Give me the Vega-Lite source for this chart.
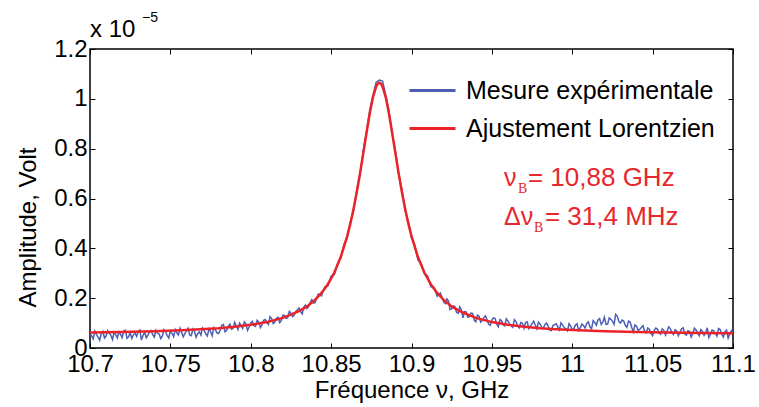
{
  "$schema": "https://vega.github.io/schema/vega-lite/v6.json",
  "width": 643,
  "height": 299,
  "autosize": {"type": "none"},
  "padding": {"left": 90, "top": 49, "right": 26, "bottom": 59},
  "background": "white",
  "config": {
    "font": "Liberation Sans",
    "view": {"stroke": "black", "strokeWidth": 1.5},
    "axis": {
      "labelFont": "Liberation Sans", "titleFont": "Liberation Sans",
      "labelFontSize": 24, "titleFontSize": 24, "titleFontWeight": "normal",
      "labelColor": "black", "titleColor": "black", "tickColor": "black",
      "domain": false, "grid": false, "tickSize": -5, "tickWidth": 1
    }
  },
  "datasets": {
    "meas": [
      {"f":10.700,"a":0.061},{"f":10.702,"a":0.037},{"f":10.704,"a":0.055},{"f":10.706,"a":0.031},{"f":10.708,"a":0.067},
      {"f":10.710,"a":0.048},{"f":10.712,"a":0.060},{"f":10.714,"a":0.034},{"f":10.716,"a":0.054},{"f":10.718,"a":0.065},
      {"f":10.720,"a":0.042},{"f":10.722,"a":0.071},{"f":10.724,"a":0.045},{"f":10.726,"a":0.038},{"f":10.728,"a":0.060},
      {"f":10.730,"a":0.066},{"f":10.732,"a":0.032},{"f":10.734,"a":0.064},{"f":10.736,"a":0.052},{"f":10.738,"a":0.070},
      {"f":10.740,"a":0.044},{"f":10.742,"a":0.060},{"f":10.744,"a":0.038},{"f":10.746,"a":0.074},{"f":10.748,"a":0.051},
      {"f":10.750,"a":0.068},{"f":10.752,"a":0.045},{"f":10.754,"a":0.061},{"f":10.756,"a":0.079},{"f":10.758,"a":0.045},
      {"f":10.760,"a":0.068},{"f":10.762,"a":0.052},{"f":10.764,"a":0.076},{"f":10.766,"a":0.043},{"f":10.768,"a":0.065},
      {"f":10.770,"a":0.080},{"f":10.772,"a":0.057},{"f":10.774,"a":0.077},{"f":10.776,"a":0.049},{"f":10.778,"a":0.073},
      {"f":10.780,"a":0.058},
      {"f":10.782,"a":0.092},{"f":10.784,"a":0.065},{"f":10.786,"a":0.087},{"f":10.788,"a":0.075},{"f":10.790,"a":0.103},
      {"f":10.792,"a":0.074},{"f":10.794,"a":0.091},{"f":10.796,"a":0.105},{"f":10.798,"a":0.071},{"f":10.800,"a":0.101},
      {"f":10.802,"a":0.090},{"f":10.804,"a":0.111},{"f":10.806,"a":0.082},{"f":10.808,"a":0.111},{"f":10.810,"a":0.102},
      {"f":10.812,"a":0.126},{"f":10.814,"a":0.098},{"f":10.816,"a":0.119},{"f":10.818,"a":0.102},{"f":10.820,"a":0.132},
      {"f":10.822,"a":0.119},{"f":10.824,"a":0.147},{"f":10.826,"a":0.126},{"f":10.828,"a":0.146},{"f":10.830,"a":0.161},
      {"f":10.832,"a":0.137},{"f":10.834,"a":0.172},{"f":10.836,"a":0.166},{"f":10.838,"a":0.194},{"f":10.840,"a":0.182},
      {"f":10.842,"a":0.216},{"f":10.844,"a":0.209},{"f":10.846,"a":0.245},{"f":10.848,"a":0.250},{"f":10.850,"a":0.289},
      {"f":10.852,"a":0.294},{"f":10.854,"a":0.339},{"f":10.856,"a":0.361},{"f":10.858,"a":0.416},{"f":10.860,"a":0.441},
      {"f":10.862,"a":0.506},{"f":10.864,"a":0.550},{"f":10.866,"a":0.636},{"f":10.868,"a":0.696},{"f":10.870,"a":0.793},
      {"f":10.872,"a":0.867},{"f":10.874,"a":0.954},{"f":10.876,"a":1.012},{"f":10.878,"a":1.067},{"f":10.880,"a":1.075},
      {"f":10.882,"a":1.071},{"f":10.884,"a":1.014},{"f":10.886,"a":0.952},{"f":10.888,"a":0.857},{"f":10.890,"a":0.791},
      {"f":10.892,"a":0.697},{"f":10.894,"a":0.638},{"f":10.896,"a":0.552},{"f":10.898,"a":0.509},{"f":10.900,"a":0.442},
      {"f":10.902,"a":0.414},{"f":10.904,"a":0.354},{"f":10.906,"a":0.340},{"f":10.908,"a":0.299},{"f":10.910,"a":0.290},
      {"f":10.912,"a":0.246},{"f":10.914,"a":0.243},{"f":10.916,"a":0.208},{"f":10.918,"a":0.220},{"f":10.920,"a":0.185},
      {"f":10.922,"a":0.197},{"f":10.924,"a":0.154},{"f":10.926,"a":0.169},{"f":10.928,"a":0.143},{"f":10.930,"a":0.165},
      {"f":10.932,"a":0.121},{"f":10.934,"a":0.145},{"f":10.936,"a":0.125},{"f":10.938,"a":0.139},{"f":10.940,"a":0.105},
      {"f":10.942,"a":0.128},{"f":10.944,"a":0.110},{"f":10.946,"a":0.129},{"f":10.948,"a":0.095},{"f":10.950,"a":0.112},
      {"f":10.952,"a":0.118},{"f":10.954,"a":0.085},{"f":10.956,"a":0.109},{"f":10.958,"a":0.089},{"f":10.960,"a":0.108},
      {"f":10.962,"a":0.089},{"f":10.964,"a":0.114},{"f":10.966,"a":0.090},{"f":10.968,"a":0.102},{"f":10.970,"a":0.079},
      {"f":10.972,"a":0.105},{"f":10.974,"a":0.089},{"f":10.976,"a":0.108},{"f":10.978,"a":0.077},{"f":10.980,"a":0.096},
      {"f":10.982,"a":0.079},{"f":10.984,"a":0.100},{"f":10.986,"a":0.072},{"f":10.988,"a":0.090},{"f":10.990,"a":0.097},
      {"f":10.992,"a":0.073},{"f":10.994,"a":0.092},{"f":10.996,"a":0.077},{"f":10.998,"a":0.098},{"f":11.000,"a":0.072},
      {"f":11.002,"a":0.092},{"f":11.004,"a":0.070},{"f":11.006,"a":0.096},{"f":11.008,"a":0.080},{"f":11.010,"a":0.105},
      {"f":11.012,"a":0.077},{"f":11.014,"a":0.103},{"f":11.016,"a":0.113},{"f":11.018,"a":0.095},{"f":11.020,"a":0.123},
      {"f":11.022,"a":0.096},{"f":11.024,"a":0.115},{"f":11.026,"a":0.095},{"f":11.028,"a":0.128},{"f":11.030,"a":0.100},
      {"f":11.032,"a":0.108},{"f":11.034,"a":0.083},{"f":11.036,"a":0.104},{"f":11.038,"a":0.065},{"f":11.040,"a":0.087},
      {"f":11.042,"a":0.075},{"f":11.044,"a":0.089},{"f":11.046,"a":0.061},{"f":11.048,"a":0.074},{"f":11.050,"a":0.050},
      {"f":11.052,"a":0.080},{"f":11.054,"a":0.060},{"f":11.056,"a":0.077},{"f":11.058,"a":0.052},{"f":11.060,"a":0.085},
      {"f":11.062,"a":0.061},{"f":11.064,"a":0.073},{"f":11.066,"a":0.049},{"f":11.068,"a":0.077},{"f":11.070,"a":0.056},
      {"f":11.072,"a":0.069},{"f":11.074,"a":0.044},{"f":11.076,"a":0.079},{"f":11.078,"a":0.061},{"f":11.080,"a":0.074},
      {"f":11.082,"a":0.051},{"f":11.084,"a":0.081},{"f":11.086,"a":0.056},{"f":11.088,"a":0.069},{"f":11.090,"a":0.048},
      {"f":11.092,"a":0.074},{"f":11.094,"a":0.044},{"f":11.096,"a":0.072},{"f":11.098,"a":0.057},{"f":11.100,"a":0.066},
      {"f":10.701,"a":0.049},{"f":10.703,"a":0.068},{"f":10.705,"a":0.044},{"f":10.707,"a":0.058},{"f":10.709,"a":0.040},
      {"f":10.711,"a":0.070},{"f":10.713,"a":0.051},{"f":10.715,"a":0.063},{"f":10.717,"a":0.041},{"f":10.719,"a":0.055},
      {"f":10.721,"a":0.069},{"f":10.723,"a":0.039},{"f":10.725,"a":0.062},{"f":10.727,"a":0.053},{"f":10.729,"a":0.046},
      {"f":10.731,"a":0.072},{"f":10.733,"a":0.050},{"f":10.735,"a":0.041},{"f":10.737,"a":0.064},{"f":10.739,"a":0.054},
      {"f":10.741,"a":0.071},{"f":10.743,"a":0.056},{"f":10.745,"a":0.047},{"f":10.747,"a":0.066},{"f":10.749,"a":0.040},
      {"f":10.751,"a":0.059},{"f":10.753,"a":0.074},{"f":10.755,"a":0.052},{"f":10.757,"a":0.063},{"f":10.759,"a":0.058},
      {"f":10.761,"a":0.079},{"f":10.763,"a":0.049},{"f":10.765,"a":0.067},{"f":10.767,"a":0.058},{"f":10.769,"a":0.052},
      {"f":10.771,"a":0.071},{"f":10.773,"a":0.048},{"f":10.775,"a":0.066},{"f":10.777,"a":0.082},{"f":10.779,"a":0.061},
      {"f":10.781,"a":0.072},{"f":10.783,"a":0.094},{"f":10.785,"a":0.071},{"f":10.787,"a":0.096},{"f":10.789,"a":0.078},
      {"f":10.791,"a":0.089},{"f":10.793,"a":0.100},{"f":10.795,"a":0.079},{"f":10.797,"a":0.097},{"f":10.799,"a":0.084},
      {"f":10.801,"a":0.107},{"f":10.803,"a":0.087},{"f":10.805,"a":0.104},{"f":10.807,"a":0.093},{"f":10.809,"a":0.114},
      {"f":10.811,"a":0.095},{"f":10.813,"a":0.118},{"f":10.815,"a":0.104},{"f":10.817,"a":0.123},{"f":10.819,"a":0.110},
      {"f":10.821,"a":0.131},{"f":10.823,"a":0.122},{"f":10.825,"a":0.140},{"f":10.827,"a":0.131},{"f":10.829,"a":0.153},
      {"f":10.831,"a":0.146},{"f":10.833,"a":0.164},{"f":10.835,"a":0.159},{"f":10.837,"a":0.184},{"f":10.839,"a":0.180},
      {"f":10.921,"a":0.178},{"f":10.923,"a":0.188},{"f":10.925,"a":0.158},{"f":10.927,"a":0.166},{"f":10.929,"a":0.139},
      {"f":10.931,"a":0.153},{"f":10.933,"a":0.146},{"f":10.935,"a":0.124},{"f":10.937,"a":0.140},{"f":10.939,"a":0.112},
      {"f":10.941,"a":0.131},{"f":10.943,"a":0.104},{"f":10.945,"a":0.122},{"f":10.947,"a":0.113},{"f":10.949,"a":0.091},
      {"f":10.951,"a":0.121},{"f":10.953,"a":0.096},{"f":10.955,"a":0.114},{"f":10.957,"a":0.094},{"f":10.959,"a":0.117},
      {"f":10.961,"a":0.098},{"f":10.963,"a":0.083},{"f":10.965,"a":0.106},{"f":10.967,"a":0.081},{"f":10.969,"a":0.099},
      {"f":10.971,"a":0.103},{"f":10.973,"a":0.078},{"f":10.975,"a":0.097},{"f":10.977,"a":0.092},{"f":10.979,"a":0.104},
      {"f":10.981,"a":0.083},{"f":10.983,"a":0.094},{"f":10.985,"a":0.088},{"f":10.987,"a":0.070},{"f":10.989,"a":0.094},
      {"f":10.991,"a":0.085},{"f":10.993,"a":0.101},{"f":10.995,"a":0.082},{"f":10.997,"a":0.069},{"f":10.999,"a":0.088},
      {"f":11.001,"a":0.078},{"f":11.003,"a":0.097},{"f":11.005,"a":0.081},{"f":11.007,"a":0.090},{"f":11.009,"a":0.099},
      {"f":11.011,"a":0.085},{"f":11.013,"a":0.110},{"f":11.015,"a":0.092},{"f":11.017,"a":0.118},{"f":11.019,"a":0.104},
      {"f":11.021,"a":0.095},{"f":11.023,"a":0.121},{"f":11.025,"a":0.108},{"f":11.027,"a":0.135},{"f":11.029,"a":0.106},
      {"f":11.031,"a":0.112},{"f":11.033,"a":0.091},{"f":11.035,"a":0.108},{"f":11.037,"a":0.082},{"f":11.039,"a":0.092},
      {"f":11.041,"a":0.070},{"f":11.043,"a":0.082},{"f":11.045,"a":0.068},{"f":11.047,"a":0.080},{"f":11.049,"a":0.059},
      {"f":11.051,"a":0.071},{"f":11.053,"a":0.075},{"f":11.055,"a":0.055},{"f":11.057,"a":0.071},{"f":11.059,"a":0.067},
      {"f":11.061,"a":0.078},{"f":11.063,"a":0.054},{"f":11.065,"a":0.068},{"f":11.067,"a":0.063},{"f":11.069,"a":0.081},
      {"f":11.071,"a":0.052},{"f":11.073,"a":0.066},{"f":11.075,"a":0.058},{"f":11.077,"a":0.072},{"f":11.079,"a":0.049},
      {"f":11.081,"a":0.067},{"f":11.083,"a":0.061},{"f":11.085,"a":0.042},{"f":11.087,"a":0.072},{"f":11.089,"a":0.060},
      {"f":11.091,"a":0.078},{"f":11.093,"a":0.055},{"f":11.095,"a":0.065},{"f":11.097,"a":0.040},{"f":11.099,"a":0.070}
    ],
    "fit": [
      {"f":10.70,"a":0.062},{"f":10.72,"a":0.064},{"f":10.74,"a":0.067},{"f":10.76,"a":0.072},{"f":10.78,"a":0.079},
      {"f":10.79,"a":0.085},{"f":10.80,"a":0.093},{"f":10.81,"a":0.104},{"f":10.82,"a":0.121},{"f":10.83,"a":0.148},
      {"f":10.835,"a":0.167},{"f":10.84,"a":0.193},{"f":10.844,"a":0.221},{"f":10.848,"a":0.256},{"f":10.852,"a":0.303},
      {"f":10.856,"a":0.365},{"f":10.86,"a":0.449},{"f":10.862,"a":0.500},{"f":10.864,"a":0.560},{"f":10.866,"a":0.627},
      {"f":10.868,"a":0.701},{"f":10.87,"a":0.781},{"f":10.872,"a":0.863},{"f":10.874,"a":0.940},{"f":10.876,"a":1.006},
      {"f":10.878,"a":1.049},{"f":10.879,"a":1.061},{"f":10.88,"a":1.065},{"f":10.881,"a":1.061},{"f":10.882,"a":1.049},
      {"f":10.884,"a":1.006},{"f":10.886,"a":0.940},{"f":10.888,"a":0.863},{"f":10.89,"a":0.781},{"f":10.892,"a":0.701},
      {"f":10.894,"a":0.627},{"f":10.896,"a":0.560},{"f":10.898,"a":0.500},{"f":10.90,"a":0.449},{"f":10.904,"a":0.365},
      {"f":10.908,"a":0.303},{"f":10.912,"a":0.256},{"f":10.916,"a":0.221},{"f":10.92,"a":0.193},{"f":10.925,"a":0.167},
      {"f":10.93,"a":0.148},{"f":10.94,"a":0.121},{"f":10.95,"a":0.104},{"f":10.96,"a":0.093},{"f":10.97,"a":0.085},
      {"f":10.98,"a":0.079},{"f":10.99,"a":0.075},{"f":11.00,"a":0.072},{"f":11.02,"a":0.067},{"f":11.04,"a":0.064},
      {"f":11.06,"a":0.062},{"f":11.08,"a":0.060},{"f":11.10,"a":0.059}
    ]
  },
  "resolve": {"axis": {"x": "independent", "y": "independent"}},
  "layer": [
    {
      "data": {"name": "meas"},
      "mark": {"type": "line", "strokeWidth": 1.5, "clip": true},
      "encoding": {
        "x": {"field": "f", "type": "quantitative", "scale": {"domain": [10.7, 11.1], "nice": false, "zero": false},
          "axis": {"orient": "bottom", "values": [10.7,10.75,10.8,10.85,10.9,10.95,11,11.05,11.1], "format": "~g", "labelPadding": 9, "labelFlush": false, "labelOverlap": false, "title": "Fréquence ν, GHz", "titlePadding": 2}},
        "y": {"field": "a", "type": "quantitative", "scale": {"domain": [0, 1.2], "nice": false},
          "axis": {"orient": "left", "values": [0,0.2,0.4,0.6,0.8,1,1.2], "format": "~g", "labelPadding": 8, "labelFlush": false, "labelOverlap": false, "title": "Amplitude, Volt", "titleX": -62, "titleY": 178, "titleBaseline": "middle"}},
        "color": {"datum": "Mesure expérimentale", "type": "nominal",
          "scale": {"domain": ["Mesure expérimentale", "Ajustement Lorentzien"], "range": ["#4b5fb4", "#eb2328"]},
          "legend": {"orient": "none", "legendX": 318, "legendY": 17, "title": null, "symbolType": "stroke", "symbolSize": 2116, "symbolStrokeWidth": 3, "labelFontSize": 25, "labelFont": "Liberation Sans", "labelColor": "black", "labelOffset": 9, "labelLimit": 500, "rowPadding": -14, "padding": 0}}
      }
    },
    {
      "data": {"name": "fit"},
      "mark": {"type": "line", "strokeWidth": 2.5, "clip": true},
      "encoding": {
        "x": {"field": "f", "type": "quantitative", "axis": null},
        "y": {"field": "a", "type": "quantitative", "axis": null},
        "color": {"datum": "Ajustement Lorentzien", "type": "nominal"}
      }
    },
    {
      "data": {"name": "fit"},
      "mark": {"type": "line", "opacity": 0},
      "encoding": {
        "x": {"field": "f", "type": "quantitative", "axis": {"orient": "top", "values": [10.7,10.75,10.8,10.85,10.9,10.95,11,11.05,11.1], "labels": false, "title": null}},
        "y": {"field": "a", "type": "quantitative", "axis": {"orient": "right", "values": [0,0.2,0.4,0.6,0.8,1,1.2], "labels": false, "title": null}}
      }
    },
    {
      "data": {"values": [{}]},
      "mark": {"type": "text", "text": "x 10", "align": "left", "baseline": "alphabetic", "dy": -12, "fontSize": 24, "font": "Liberation Sans", "color": "black", "clip": false},
      "encoding": {"x": {"datum": 10.7, "type": "quantitative", "axis": null}, "y": {"datum": 1.2, "type": "quantitative", "axis": null}}
    },
    {
      "data": {"values": [{}]},
      "mark": {"type": "text", "text": "−5", "align": "left", "baseline": "alphabetic", "dx": 52, "dy": -27, "fontSize": 14, "font": "Liberation Sans", "color": "black", "clip": false},
      "encoding": {"x": {"datum": 10.7, "type": "quantitative", "axis": null}, "y": {"datum": 1.2, "type": "quantitative", "axis": null}}
    },
    {
      "data": {"values": [{}]},
      "mark": {"type": "text", "text": "ν", "align": "left", "baseline": "alphabetic", "fontSize": 25, "font": "Liberation Sans", "color": "#e6282d"},
      "encoding": {"x": {"datum": 10.9575, "type": "quantitative", "axis": null}, "y": {"datum": 0.65, "type": "quantitative", "axis": null}}
    },
    {
      "data": {"values": [{}]},
      "mark": {"type": "text", "text": "B", "align": "left", "baseline": "alphabetic", "dx": 14, "dy": 7, "fontSize": 14, "font": "Liberation Serif", "color": "#e6282d"},
      "encoding": {"x": {"datum": 10.9575, "type": "quantitative", "axis": null}, "y": {"datum": 0.65, "type": "quantitative", "axis": null}}
    },
    {
      "data": {"values": [{}]},
      "mark": {"type": "text", "text": "= 10,88 GHz", "align": "left", "baseline": "alphabetic", "dx": 24, "fontSize": 26, "font": "Liberation Sans", "color": "#e6282d"},
      "encoding": {"x": {"datum": 10.9575, "type": "quantitative", "axis": null}, "y": {"datum": 0.65, "type": "quantitative", "axis": null}}
    },
    {
      "data": {"values": [{}]},
      "mark": {"type": "text", "text": "Δν", "align": "left", "baseline": "alphabetic", "fontSize": 25, "font": "Liberation Sans", "color": "#e6282d"},
      "encoding": {"x": {"datum": 10.9575, "type": "quantitative", "axis": null}, "y": {"datum": 0.495, "type": "quantitative", "axis": null}}
    },
    {
      "data": {"values": [{}]},
      "mark": {"type": "text", "text": "B", "align": "left", "baseline": "alphabetic", "dx": 30, "dy": 7, "fontSize": 14, "font": "Liberation Serif", "color": "#e6282d"},
      "encoding": {"x": {"datum": 10.9575, "type": "quantitative", "axis": null}, "y": {"datum": 0.495, "type": "quantitative", "axis": null}}
    },
    {
      "data": {"values": [{}]},
      "mark": {"type": "text", "text": "= 31,4 MHz", "align": "left", "baseline": "alphabetic", "dx": 41, "fontSize": 26, "font": "Liberation Sans", "color": "#e6282d"},
      "encoding": {"x": {"datum": 10.9575, "type": "quantitative", "axis": null}, "y": {"datum": 0.495, "type": "quantitative", "axis": null}}
    }
  ]
}
